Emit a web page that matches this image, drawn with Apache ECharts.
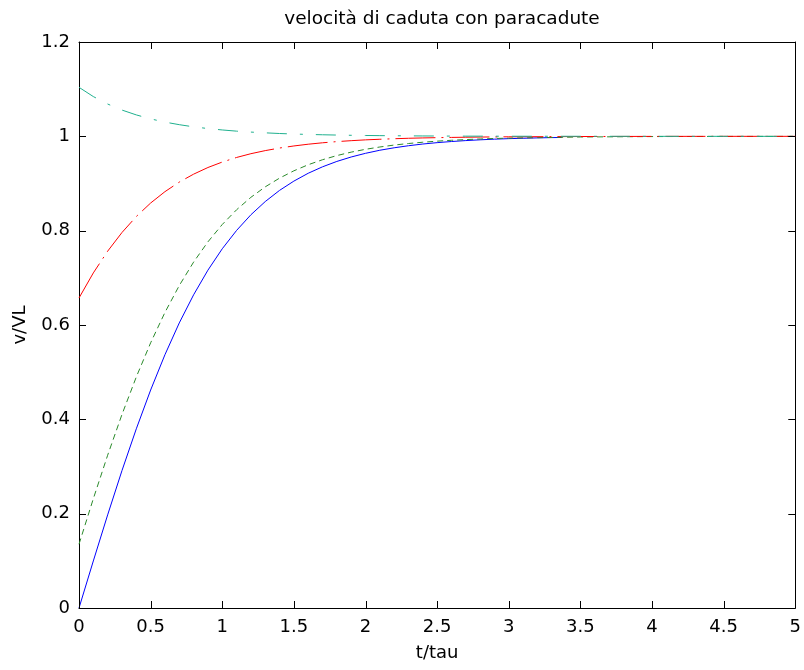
<!DOCTYPE html>
<html lang="it">
<head>
    <meta charset="utf-8">
    <title>velocità di caduta con paracadute</title>
    <script src="https://cdn.jsdelivr.net/npm/echarts@6/dist/echarts.min.js"></script>
    <style>
        html, body {margin: 0; padding: 0; background: #fff;}
        #main {width: 804px; height: 670px;}
    </style>
</head>
<body>
<div id="main"></div>
<script type="text/javascript">
    // t/tau sample points
    var tVals = [0, 0.1, 0.2, 0.3, 0.4, 0.5, 0.6, 0.7, 0.8, 0.9,
        1.0, 1.1, 1.2, 1.3, 1.4, 1.5, 1.6, 1.7, 1.8, 1.9,
        2.0, 2.1, 2.2, 2.3, 2.4, 2.5, 2.6, 2.7, 2.8, 2.9,
        3.0, 3.5, 4.0, 4.5, 5.0];
    // the blue curve stops a bit after 3.3
    var tBlue = [0, 0.1, 0.2, 0.3, 0.4, 0.5, 0.6, 0.7, 0.8, 0.9,
        1.0, 1.1, 1.2, 1.3, 1.4, 1.5, 1.6, 1.7, 1.8, 1.9,
        2.0, 2.1, 2.2, 2.3, 2.4, 2.5, 2.6, 2.7, 2.8, 2.9,
        3.0, 3.1, 3.2, 3.3, 3.37];

    var vBlue = [0, 0.0997, 0.1974, 0.2913, 0.3799, 0.4621, 0.5370, 0.6044, 0.6640, 0.7163,
        0.7616, 0.8005, 0.8337, 0.8617, 0.8854, 0.9051, 0.9217, 0.9354, 0.9468, 0.9562,
        0.9640, 0.9705, 0.9757, 0.9801, 0.9837, 0.9866, 0.9890, 0.9910, 0.9926, 0.9940,
        0.9951, 0.9959, 0.9967, 0.9973, 0.9976];
    var vGreen = [0.1352, 0.2317, 0.3239, 0.4103, 0.4899, 0.5622, 0.6267, 0.6837, 0.7334, 0.7763,
        0.8131, 0.8443, 0.8707, 0.8929, 0.9114, 0.9269, 0.9398, 0.9504, 0.9592, 0.9665,
        0.9725, 0.9774, 0.9815, 0.9848, 0.9875, 0.9898, 0.9916, 0.9931, 0.9944, 0.9954,
        0.9962, 0.9986, 0.9995, 0.9998, 0.9999];
    var vRed = [0.6573, 0.7104, 0.7565, 0.7961, 0.8300, 0.8586, 0.8827, 0.9030, 0.9198, 0.9339,
        0.9455, 0.9552, 0.9632, 0.9697, 0.9752, 0.9796, 0.9833, 0.9863, 0.9888, 0.9908,
        0.9925, 0.9938, 0.9949, 0.9959, 0.9966, 0.9972, 0.9977, 0.9981, 0.9985, 0.9987,
        0.9990, 0.9996, 0.9999, 1.0000, 1.0000];
    var vTeal = [1.1039, 1.0843, 1.0685, 1.0557, 1.0454, 1.0370, 1.0302, 1.0247, 1.0201, 1.0165,
        1.0135, 1.0110, 1.0090, 1.0074, 1.0060, 1.0049, 1.0040, 1.0033, 1.0027, 1.0022,
        1.0018, 1.0015, 1.0012, 1.0010, 1.0008, 1.0007, 1.0005, 1.0004, 1.0004, 1.0003,
        1.0002, 1.0001, 1.0000, 1.0000, 1.0000];

    // tick values of the box
    var xTicks = [0, 0.5, 1, 1.5, 2, 2.5, 3, 3.5, 4, 4.5, 5];
    var yTicks = [0, 0.2, 0.4, 0.6, 0.8, 1, 1.2];

    function pairs(xs, ys) {
        var out = [];
        for (var i = 0; i < xs.length; i++) {
            out.push([xs[i], ys[i]]);
        }
        return out;
    }

    var font = 'DejaVu Sans';
    var xMin = xTicks[0], xMax = xTicks[xTicks.length - 1];
    var yMin = yTicks[0], yMax = yTicks[yTicks.length - 1];
    var tickLen = 7;

    function lineSeries(name, data, color, dash) {
        return {
            name: name,
            type: 'line',
            data: data,
            showSymbol: false,
            symbol: 'none',
            lineStyle: {color: color, width: 1, type: dash}
        };
    }

    function tickLine(x1, y1, x2, y2) {
        return {
            type: 'line',
            shape: {x1: x1, y1: y1, x2: x2, y2: y2},
            style: {stroke: '#000', lineWidth: 1}
        };
    }

    // inward ticks on all four sides, placed through the axis scales
    var tickSeries = {
        type: 'custom',
        silent: true,
        clip: false,
        z: 10,
        data: xTicks.map(function (v) { return [v, 'x']; }).concat(
            yTicks.map(function (v) { return [v, 'y']; })),
        encode: {x: -1, y: -1},
        renderItem: function (params, api) {
            var v = api.value(0);
            var kind = params.dataIndex < xTicks.length ? 'x' : 'y';
            if (kind === 'x') {
                var b = api.coord([v, yMin]);
                var t = api.coord([v, yMax]);
                var px = Math.round(b[0]) + 0.5;
                return {type: 'group', children: [
                    tickLine(px, b[1], px, b[1] - tickLen),
                    tickLine(px, t[1], px, t[1] + tickLen)
                ]};
            }
            var l = api.coord([xMin, v]);
            var r = api.coord([xMax, v]);
            var py = Math.round(l[1]) + 0.5;
            return {type: 'group', children: [
                tickLine(l[0], py, l[0] + tickLen, py),
                tickLine(r[0], py, r[0] - tickLen, py)
            ]};
        }
    };

    var myChart = echarts.init(document.getElementById('main'));
    var option = {
        animation: false,
        title: {
            text: 'velocità di caduta con paracadute',
            left: 437,
            textAlign: 'center',
            top: 5,
            textStyle: {fontFamily: font, fontSize: 18.5, fontWeight: 'normal', color: '#000'}
        },
        grid: {left: 79, right: 7, top: 42, bottom: 62},
        xAxis: [
            {
                type: 'value', position: 'bottom', min: xMin, max: xMax, interval: 0.5,
                name: 't/tau', nameLocation: 'middle', nameGap: 36,
                nameTextStyle: {fontFamily: font, fontSize: 18, color: '#000'},
                axisLine: {show: true, onZero: false, lineStyle: {color: '#000', width: 1}},
                axisTick: {show: false},
                splitLine: {show: false},
                axisLabel: {fontFamily: font, fontSize: 18, color: '#000', margin: 10}
            },
            {
                type: 'value', position: 'top', min: xMin, max: xMax, interval: 0.5,
                axisLine: {show: true, onZero: false, lineStyle: {color: '#000', width: 1}},
                axisTick: {show: false},
                splitLine: {show: false},
                axisLabel: {show: false}
            }
        ],
        yAxis: [
            {
                type: 'value', position: 'left', min: yMin, max: yMax, interval: 0.2,
                name: 'v/VL', nameLocation: 'middle', nameGap: 50,
                nameTextStyle: {fontFamily: font, fontSize: 18, color: '#000'},
                axisLine: {show: true, onZero: false, lineStyle: {color: '#000', width: 1}},
                axisTick: {show: false},
                splitLine: {show: false},
                axisLabel: {fontFamily: font, fontSize: 18, color: '#000', margin: 9}
            },
            {
                type: 'value', position: 'right', min: yMin, max: yMax, interval: 0.2,
                axisLine: {show: true, onZero: false, lineStyle: {color: '#000', width: 1}},
                axisTick: {show: false},
                splitLine: {show: false},
                axisLabel: {show: false}
            }
        ],
        series: [
            lineSeries('blu', pairs(tBlue, vBlue), '#0000ff', 'solid'),
            lineSeries('verde', pairs(tVals, vGreen), '#2a8a2a', [6, 4]),
            lineSeries('rosso', pairs(tVals, vRed), '#ff0000', [40, 6, 2, 6]),
            lineSeries('turchese', pairs(tVals, vTeal), '#1fb08e', [20, 13, 3, 13]),
            tickSeries
        ]
    };
    myChart.setOption(option);
</script>
</body>
</html>
